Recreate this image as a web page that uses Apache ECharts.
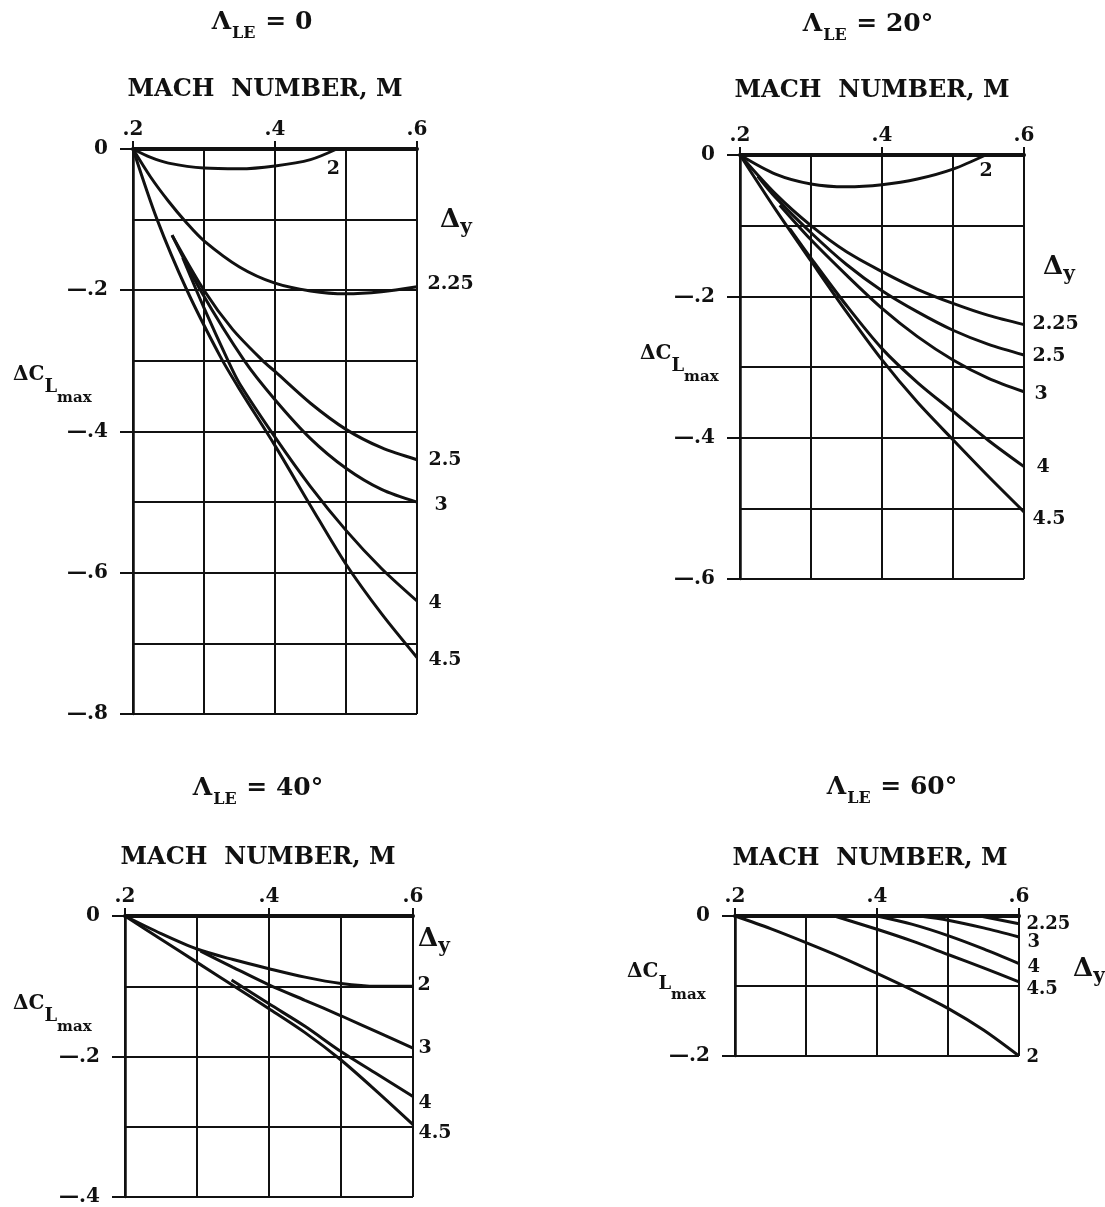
<!DOCTYPE html>
<html><head><meta charset="utf-8">
<script src="https://cdn.jsdelivr.net/npm/echarts@6/dist/echarts.min.js"></script>
<style>html,body{margin:0;padding:0;background:#fff}#c{width:1105px;height:1207px}</style>
</head><body><div id="c"></div>
<script>
// ================= DATA =================
// Mach number tick labels (top axis)
const xTickLabels = ['.2', '.4', '.6'];
// Sweep angle of each panel
const sweepLabels = ['0', '20°', '40°', '60°'];
// Lower bound of ΔCLmax axis for each panel
const yMins = [-0.8, -0.6, -0.4, -0.2];

// Panel Λ_LE = 0   ([Mach, ΔCLmax])
const le0_dy2   = [[0.2,0],[0.225,-0.012],[0.25,-0.02],[0.3,-0.027],[0.35,-0.028],[0.4,-0.024],[0.45,-0.015],[0.487,0]];
const le0_dy225 = [[0.2,0],[0.225,-0.04],[0.25,-0.074],[0.275,-0.104],[0.3,-0.13],[0.35,-0.167],[0.4,-0.19],[0.45,-0.201],[0.5,-0.205],[0.55,-0.202],[0.6,-0.195]];
const le0_dy25  = [[0.255,-0.122],[0.3,-0.2],[0.34,-0.255],[0.383,-0.3],[0.4,-0.315],[0.45,-0.36],[0.5,-0.397],[0.55,-0.423],[0.6,-0.44]];
const le0_dy3   = [[0.255,-0.122],[0.295,-0.2],[0.357,-0.3],[0.4,-0.355],[0.45,-0.41],[0.5,-0.452],[0.55,-0.482],[0.6,-0.5]];
const le0_dy4   = [[0.27,-0.154],[0.3,-0.225],[0.334,-0.3],[0.35,-0.332],[0.4,-0.408],[0.45,-0.478],[0.5,-0.54],[0.55,-0.594],[0.6,-0.64]];
const le0_dy45  = [[0.2,0],[0.234,-0.1],[0.276,-0.2],[0.323,-0.294],[0.35,-0.34],[0.4,-0.42],[0.45,-0.505],[0.5,-0.588],[0.55,-0.658],[0.6,-0.72]];

// Panel Λ_LE = 20°
const le20_dy2   = [[0.2,0],[0.25,-0.027],[0.3,-0.041],[0.35,-0.045],[0.4,-0.042],[0.45,-0.034],[0.5,-0.02],[0.546,0]];
const le20_dy225 = [[0.2,0],[0.25,-0.055],[0.3,-0.1],[0.35,-0.137],[0.4,-0.165],[0.45,-0.19],[0.5,-0.21],[0.55,-0.227],[0.6,-0.24]];
const le20_dy25  = [[0.225,-0.03],[0.25,-0.06],[0.3,-0.11],[0.35,-0.155],[0.4,-0.192],[0.45,-0.222],[0.5,-0.248],[0.55,-0.268],[0.6,-0.283]];
const le20_dy3   = [[0.256,-0.071],[0.3,-0.12],[0.35,-0.17],[0.4,-0.217],[0.45,-0.257],[0.5,-0.29],[0.55,-0.316],[0.6,-0.335]];
const le20_dy4   = [[0.27,-0.104],[0.3,-0.146],[0.35,-0.213],[0.4,-0.274],[0.45,-0.322],[0.5,-0.363],[0.55,-0.404],[0.6,-0.441]];
const le20_dy45  = [[0.2,0],[0.25,-0.077],[0.3,-0.15],[0.35,-0.222],[0.4,-0.29],[0.45,-0.35],[0.5,-0.403],[0.55,-0.455],[0.6,-0.505]];

// Panel Λ_LE = 40°
const le40_dy2  = [[0.2,0],[0.25,-0.025],[0.3,-0.047],[0.35,-0.062],[0.4,-0.075],[0.45,-0.087],[0.5,-0.096],[0.55,-0.1],[0.6,-0.1]];
const le40_dy3  = [[0.305,-0.05],[0.35,-0.073],[0.4,-0.098],[0.45,-0.12],[0.5,-0.142],[0.55,-0.165],[0.6,-0.188]];
const le40_dy4  = [[0.348,-0.091],[0.4,-0.125],[0.45,-0.157],[0.5,-0.193],[0.55,-0.225],[0.6,-0.257]];
const le40_dy45 = [[0.2,0],[0.25,-0.033],[0.3,-0.066],[0.35,-0.099],[0.4,-0.132],[0.45,-0.166],[0.5,-0.205],[0.55,-0.25],[0.6,-0.297]];

// Panel Λ_LE = 60°
const le60_dy225 = [[0.545,0],[0.6,-0.011]];
const le60_dy3   = [[0.46,0],[0.5,-0.006],[0.55,-0.017],[0.6,-0.03]];
const le60_dy4   = [[0.4,0],[0.45,-0.012],[0.5,-0.028],[0.55,-0.047],[0.6,-0.068]];
const le60_dy45  = [[0.34,0],[0.4,-0.019],[0.45,-0.036],[0.5,-0.055],[0.55,-0.074],[0.6,-0.094]];
const le60_dy2   = [[0.2,0],[0.25,-0.018],[0.3,-0.038],[0.35,-0.059],[0.4,-0.082],[0.45,-0.106],[0.5,-0.132],[0.55,-0.163],[0.6,-0.2]];

// Curve labels (Δy) per panel
const curveLabels = [
  ['2', '2.25', '2.5', '3', '4', '4.5'],
  ['2', '2.25', '2.5', '3', '4', '4.5'],
  ['2', '3', '4', '4.5'],
  ['2.25', '3', '4', '4.5', '2']
];
const curveData = [
  [le0_dy2, le0_dy225, le0_dy25, le0_dy3, le0_dy4, le0_dy45],
  [le20_dy2, le20_dy225, le20_dy25, le20_dy3, le20_dy4, le20_dy45],
  [le40_dy2, le40_dy3, le40_dy4, le40_dy45],
  [le60_dy225, le60_dy3, le60_dy4, le60_dy45, le60_dy2]
];

// ================= LAYOUT / STYLE =================
const FONT = "'DejaVu Serif', 'Liberation Serif', serif";
const INK = '#111';
const layout = [
  {left:133, top:149, width:284, height:565, title:[262,10],  mach:[265,90],  dcl:[13,365],  dy:[440,207]},
  {left:740, top:155, width:284, height:424, title:[868,12], mach:[872,91],  dcl:[640,344], dy:[1043,254]},
  {left:125, top:916, width:288, height:281, title:[258,776], mach:[258,858], dcl:[13,994],  dy:[418,926]},
  {left:735, top:916, width:284, height:140, title:[892,775], mach:[870,859], dcl:[627,962], dy:[1073,956]}
];
// label offsets [dx, dy, align] relative to the curve end
const labelPos = [
  [[-3,21,'center'],[11,-2],[12,1],[18,3],[12,3],[12,3]],
  [[1,17,'center'],[9,0],[9,2],[11,3],[13,1],[9,8]],
  [[5,-1],[6,0],[6,7],[6,9]],
  [[8,1],[9,6],[9,4],[8,8],[8,2]]
];
const labelFont = [19, 19, 19, 18];

const grids = [], xAxes = [], yAxes = [], series = [], graphics = [];

layout.forEach((L, i) => {
  grids.push({left:L.left, top:L.top, width:L.width, height:L.height});
  xAxes.push({
    type:'value', gridIndex:i, position:'top', min:0.2, max:0.6, interval:0.2,
    axisLine:{show:true, onZero:false, lineStyle:{color:INK, width:4}},
    axisTick:{show:true, inside:false, length:8, lineStyle:{color:INK, width:2}},
    axisLabel:{margin:9, color:INK, fontFamily:FONT, fontWeight:'bold', fontSize:20,
      formatter: v => xTickLabels[Math.round((v - 0.2) / 0.2)]},
    splitLine:{show:true, lineStyle:{color:INK, width:2}},
    minorTick:{show:false, splitNumber:2},
    minorSplitLine:{show:true, lineStyle:{color:INK, width:2}}
  });
  yAxes.push({
    type:'value', gridIndex:i, min:yMins[i], max:0, interval:0.2,
    axisLine:{show:true, onZero:false, lineStyle:{color:INK, width:2.5}},
    axisTick:{show:true, inside:false, length:13, lineStyle:{color:INK, width:2}},
    axisLabel:{margin:25, color:INK, fontFamily:FONT, fontWeight:'bold', fontSize:20,
      formatter: v => Math.abs(v) < 1e-9 ? '0' : '\u2014.' + Math.round(-v * 10)},
    splitLine:{show:true, lineStyle:{color:INK, width:2}},
    minorTick:{show:false, splitNumber:2},
    minorSplitLine:{show:true, lineStyle:{color:INK, width:2}}
  });
  curveData[i].forEach((d, k) => {
    const p = labelPos[i][k];
    const last = d[d.length - 1];
    series.push({
      type:'line', xAxisIndex:i, yAxisIndex:i, name:'Δy ' + curveLabels[i][k],
      data:d, showSymbol:false, symbol:'none', smooth:0.3, silent:true,
      lineStyle:{color:INK, width:3}, z:5,
      markPoint:{
        symbol:'circle', symbolSize:1, itemStyle:{color:'rgba(0,0,0,0)'}, silent:true,
        data:[{coord:last, value:curveLabels[i][k]}],
        label:{show:true, formatter:curveLabels[i][k], position:[p[0], p[1]],
          align:p[2] || 'left', verticalAlign:'middle', color:INK,
          fontFamily:FONT, fontWeight:'bold', fontSize:labelFont[i]}
      }
    });
  });
  // panel title Λ_LE = ...
  graphics.push({type:'text', x:L.title[0], y:L.title[1], style:{
    text:'{g|Λ}{s|LE}{g| = ' + sweepLabels[i] + '}', align:'center', verticalAlign:'top', fill:INK,
    rich:{
      g:{fontSize:25, lineHeight:27, fontFamily:FONT, fontWeight:'bold', verticalAlign:'top', fill:INK},
      s:{fontSize:16, lineHeight:17, padding:[16,1,0,1], fontFamily:FONT, fontWeight:'bold', verticalAlign:'top', fill:INK}
    }}});
  // x axis title
  graphics.push({type:'text', x:L.mach[0], y:L.mach[1], style:{
    text:'MACH  NUMBER, M', align:'center', verticalAlign:'middle', fill:INK,
    font:'bold 24px ' + FONT}});
  // y axis title ΔC_L_max
  graphics.push({type:'text', x:L.dcl[0], y:L.dcl[1], style:{
    text:'{d|ΔC}{l|L}{m|max}', align:'left', verticalAlign:'top', fill:INK,
    rich:{
      d:{fontSize:20, lineHeight:24, fontFamily:FONT, fontWeight:'bold', verticalAlign:'top', fill:INK},
      l:{fontSize:18, lineHeight:20, padding:[13,0,0,0], fontFamily:FONT, fontWeight:'bold', verticalAlign:'top', fill:INK},
      m:{fontSize:15, lineHeight:16, padding:[26,0,0,0], fontFamily:FONT, fontWeight:'bold', verticalAlign:'top', fill:INK}
    }}});
  // Δy label
  graphics.push({type:'text', x:L.dy[0], y:L.dy[1], style:{
    text:'{D|Δ}{y|y}', align:'left', verticalAlign:'top', fill:INK,
    rich:{
      D:{fontSize:26, lineHeight:28, fontFamily:FONT, fontWeight:'bold', verticalAlign:'top', fill:INK},
      y:{fontSize:20, lineHeight:22, padding:[11,0,0,0], fontFamily:FONT, fontWeight:'bold', verticalAlign:'top', fill:INK}
    }}});
});

const chart = echarts.init(document.getElementById('c'), null, {renderer:'canvas'});
chart.setOption({
  backgroundColor:'#fff',
  animation:false,
  grid:grids, xAxis:xAxes, yAxis:yAxes, series:series, graphic:graphics
});
</script></body></html>
